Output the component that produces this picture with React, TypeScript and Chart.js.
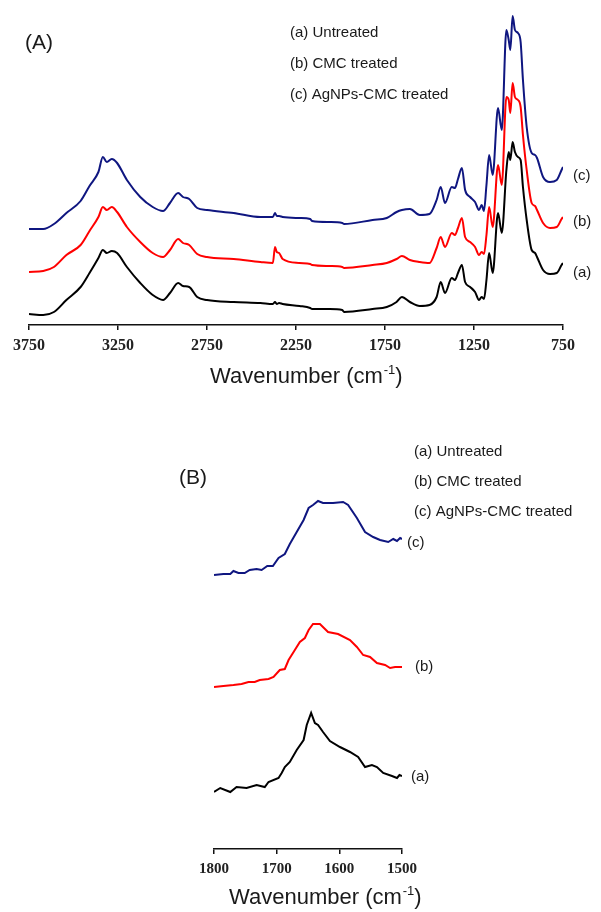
import React, { useEffect, useRef } from "react";
import { Chart, registerables } from "chart.js";

Chart.register(...registerables);

// ---------- Panel (A): full FTIR spectra ----------
const wnA = [3750, 3670, 3610, 3540, 3460, 3410, 3360, 3335, 3313, 3285, 3255, 3200, 3125, 3055, 2997, 2958, 2912, 2885, 2850, 2805, 2750, 2600, 2450, 2380, 2368, 2358, 2345, 2325, 2230, 2170, 2160, 2060, 1990, 1980, 1820, 1740, 1685, 1655, 1610, 1555, 1500, 1460, 1437, 1413, 1375, 1357, 1340, 1318, 1300, 1272, 1244, 1222, 1207, 1194, 1180, 1165, 1145, 1115, 1094, 1068, 1055, 1046, 1033, 1020, 1003, 988, 975, 954, 926, 907, 896, 862, 823, 785, 758, 750];
const absA_untreated = [0.11, 0.10, 0.13, 0.25, 0.38, 0.52, 0.67, 0.75, 0.72, 0.74, 0.72, 0.58, 0.42, 0.30, 0.25, 0.32, 0.42, 0.39, 0.38, 0.28, 0.25, 0.23, 0.22, 0.21, 0.23, 0.21, 0.22, 0.21, 0.19, 0.17, 0.16, 0.16, 0.15, 0.13, 0.16, 0.18, 0.23, 0.28, 0.23, 0.19, 0.20, 0.28, 0.43, 0.32, 0.47, 0.45, 0.52, 0.60, 0.43, 0.38, 0.33, 0.25, 0.28, 0.26, 0.45, 0.72, 0.52, 1.12, 0.92, 1.55, 1.73, 1.65, 1.83, 1.73, 1.68, 1.65, 1.38, 1.05, 0.75, 0.72, 0.68, 0.55, 0.51, 0.52, 0.60, 0.62];
const absA_cmc = [0.53, 0.54, 0.58, 0.70, 0.80, 0.94, 1.08, 1.18, 1.15, 1.18, 1.13, 0.98, 0.83, 0.72, 0.68, 0.75, 0.86, 0.82, 0.80, 0.71, 0.68, 0.66, 0.63, 0.62, 0.78, 0.73, 0.72, 0.66, 0.62, 0.61, 0.60, 0.59, 0.58, 0.57, 0.60, 0.62, 0.66, 0.69, 0.65, 0.63, 0.62, 0.77, 0.88, 0.78, 0.92, 0.90, 0.97, 1.07, 0.88, 0.83, 0.78, 0.70, 0.73, 0.71, 0.90, 1.18, 0.98, 1.60, 1.40, 2.28, 2.25, 2.12, 2.42, 2.28, 2.25, 2.18, 1.90, 1.55, 1.22, 1.19, 1.15, 1.02, 0.97, 0.98, 1.06, 1.08];
const absA_agnp = [0.96, 0.96, 1.01, 1.12, 1.24, 1.39, 1.53, 1.68, 1.63, 1.66, 1.62, 1.45, 1.28, 1.18, 1.14, 1.22, 1.32, 1.28, 1.26, 1.17, 1.15, 1.12, 1.08, 1.08, 1.12, 1.09, 1.09, 1.08, 1.07, 1.06, 1.04, 1.03, 1.02, 1.01, 1.05, 1.07, 1.13, 1.15, 1.16, 1.10, 1.11, 1.25, 1.38, 1.22, 1.38, 1.37, 1.46, 1.57, 1.35, 1.28, 1.23, 1.15, 1.20, 1.14, 1.40, 1.70, 1.50, 2.17, 1.95, 2.95, 2.85, 2.75, 3.09, 2.95, 2.92, 2.83, 2.45, 1.98, 1.72, 1.70, 1.67, 1.48, 1.43, 1.45, 1.55, 1.58];
const ticksA = [3750, 3250, 2750, 2250, 1750, 1250, 750];

// ---------- Panel (B): 1800-1500 cm-1 region ----------
const wnB_untreated = [1800, 1790, 1774, 1764, 1748, 1732, 1719, 1713, 1697, 1692, 1687, 1679, 1668, 1657, 1652, 1645, 1639, 1634, 1626, 1615, 1599, 1583, 1570, 1559, 1548, 1540, 1530, 1516, 1508, 1504, 1500];
const absB_untreated = [0.57, 0.61, 0.57, 0.62, 0.61, 0.64, 0.62, 0.67, 0.71, 0.76, 0.82, 0.87, 0.99, 1.09, 1.24, 1.36, 1.26, 1.24, 1.17, 1.08, 1.02, 0.97, 0.92, 0.82, 0.84, 0.82, 0.76, 0.73, 0.71, 0.74, 0.73];
const wnB_cmc = [1800, 1785, 1769, 1756, 1745, 1735, 1727, 1713, 1705, 1695, 1687, 1681, 1671, 1663, 1655, 1649, 1642, 1631, 1618, 1602, 1583, 1572, 1562, 1551, 1540, 1527, 1519, 1511, 1500];
const absB_cmc = [1.62, 1.63, 1.64, 1.65, 1.67, 1.67, 1.69, 1.70, 1.72, 1.79, 1.80, 1.89, 1.99, 2.07, 2.11, 2.19, 2.25, 2.25, 2.17, 2.15, 2.09, 2.02, 1.94, 1.92, 1.86, 1.84, 1.81, 1.82, 1.82];
const wnB_agnp = [1800, 1785, 1774, 1769, 1761, 1751, 1743, 1732, 1724, 1715, 1706, 1697, 1687, 1679, 1668, 1657, 1649, 1642, 1634, 1626, 1610, 1594, 1586, 1572, 1559, 1546, 1535, 1522, 1514, 1508, 1503, 1500];
const absB_agnp = [2.74, 2.75, 2.75, 2.78, 2.76, 2.76, 2.79, 2.80, 2.79, 2.83, 2.83, 2.91, 2.95, 3.05, 3.17, 3.29, 3.41, 3.44, 3.48, 3.46, 3.46, 3.47, 3.44, 3.31, 3.17, 3.12, 3.09, 3.07, 3.10, 3.08, 3.11, 3.10];
const ticksB = [1800, 1700, 1600, 1500];

const legendLabels = ["(a) Untreated", "(b) CMC treated", "(c) AgNPs-CMC treated"];
const curveLabels = ["(a)", "(b)", "(c)"];

const COLORS = ["#000000", "#ff0000", "#0f1680"];
const SANS = '"Liberation Sans", Arial, Helvetica, sans-serif';
const SERIF = '"Liberation Serif", "Times New Roman", serif';

type TextItem = { text: string; x: number; y: number; size: number };
type PanelCfg = {
  panel: string;
  panelPos: [number, number];
  legendPos: [number, number, number];
  labelPos: [number, number][];
  titlePos: [number, number];
};

function pts(xs: number[], ys: number[]) {
  return xs.map((x, i) => ({ x, y: ys[i] }));
}

function makeTextPlugin(cfg: PanelCfg) {
  return {
    id: "panelText" + cfg.panel,
    afterDraw(chart: any) {
      const ctx = chart.ctx as CanvasRenderingContext2D;
      ctx.save();
      ctx.fillStyle = "#1a1a1a";
      ctx.textBaseline = "middle";
      ctx.textAlign = "left";
      const items: TextItem[] = [];
      items.push({ text: cfg.panel, x: cfg.panelPos[0], y: cfg.panelPos[1], size: 21 });
      legendLabels.forEach((t, i) =>
        items.push({ text: t, x: cfg.legendPos[0], y: cfg.legendPos[1] + i * cfg.legendPos[2], size: 15 })
      );
      curveLabels.forEach((t, i) =>
        items.push({ text: t, x: cfg.labelPos[i][0], y: cfg.labelPos[i][1], size: 15 })
      );
      items.forEach((it) => {
        ctx.font = `${it.size}px ${SANS}`;
        ctx.fillText(it.text, it.x, it.y);
      });
      // axis title with superscript
      const [tx, ty] = cfg.titlePos;
      const main = "Wavenumber (cm";
      ctx.font = `22px ${SANS}`;
      ctx.fillText(main, tx, ty);
      let w = ctx.measureText(main).width;
      ctx.font = `13px ${SANS}`;
      ctx.fillText("-1", tx + w + 1, ty - 7);
      w += ctx.measureText("-1").width + 1;
      ctx.font = `22px ${SANS}`;
      ctx.fillText(")", tx + w, ty);
      ctx.restore();
    },
  };
}

function buildConfig(
  sets: { x: number; y: number }[][],
  xmin: number,
  xmax: number,
  ticks: number[],
  ymax: number,
  padding: { left: number; right: number; top: number; bottom: number },
  tickFont: number,
  smooth: boolean,
  plugin: any
): any {
  return {
    type: "line",
    data: {
      datasets: sets.map((d, i) => ({
        label: legendLabels[i],
        data: d,
        borderColor: COLORS[i],
        backgroundColor: COLORS[i],
        borderWidth: 2,
        pointRadius: 0,
        fill: false,
        tension: smooth ? 0 : 0,
        cubicInterpolationMode: smooth ? "monotone" : "default",
      })),
    },
    options: {
      animation: false,
      responsive: false,
      devicePixelRatio: 1,
      parsing: true,
      layout: { padding },
      plugins: { legend: { display: false }, tooltip: { enabled: false }, title: { display: false } },
      scales: {
        x: {
          type: "linear",
          reverse: true,
          min: xmin,
          max: xmax,
          afterBuildTicks: (s: any) => {
            s.ticks = ticks.map((v) => ({ value: v }));
          },
          afterFit: (s: any) => {
            s.height = 30;
          },
          ticks: {
            autoSkip: false,
            maxRotation: 0,
            padding: 6,
            color: "#222",
            font: { family: SERIF, size: tickFont, weight: "bold" },
            callback: (v: any) => String(v),
          },
          grid: {
            display: true,
            drawOnChartArea: false,
            drawTicks: true,
            tickLength: 5,
            color: "#111",
            lineWidth: 1.5,
          },
          border: { display: true, color: "#111", width: 1.5 },
        },
        y: { type: "linear", display: false, min: 0, max: ymax },
      },
    },
    plugins: [plugin],
  };
}

export default function App() {
  const refA = useRef<HTMLCanvasElement>(null);
  const refB = useRef<HTMLCanvasElement>(null);

  useEffect(() => {
    const pluginA = makeTextPlugin({
      panel: "(A)",
      panelPos: [25, 43],
      legendPos: [290, 33, 31],
      labelPos: [
        [573, 273],
        [573, 222],
        [573, 176],
      ],
      titlePos: [210, 377],
    });
    const pluginB = makeTextPlugin({
      panel: "(B)",
      panelPos: [179, 78],
      legendPos: [414, 52, 30],
      labelPos: [
        [411, 377],
        [415, 267],
        [407, 143],
      ],
      titlePos: [229, 498],
    });
    const chartA = new Chart(
      refA.current as HTMLCanvasElement,
      buildConfig(
        [pts(wnA, absA_untreated), pts(wnA, absA_cmc), pts(wnA, absA_agnp)],
        750,
        3750,
        ticksA,
        3.2,
        { left: 29, right: 38, top: 5, bottom: 45 },
        16,
        true,
        pluginA
      )
    );
    const chartB = new Chart(
      refB.current as HTMLCanvasElement,
      buildConfig(
        [pts(wnB_untreated, absB_untreated), pts(wnB_cmc, absB_cmc), pts(wnB_agnp, absB_agnp)],
        1500,
        1800,
        ticksB,
        4.09,
        { left: 214, right: 199, top: 40, bottom: 33 },
        15,
        false,
        pluginB
      )
    );
    return () => {
      chartA.destroy();
      chartB.destroy();
    };
  }, []);

  return (
    <div style={{ position: "absolute", left: 0, top: 0, width: 601, height: 912, background: "#fff" }}>
      <canvas ref={refA} width={601} height={400} style={{ position: "absolute", left: 0, top: 0, width: 601, height: 400 }} />
      <canvas ref={refB} width={601} height={512} style={{ position: "absolute", left: 0, top: 400, width: 601, height: 512 }} />
    </div>
  );
}
